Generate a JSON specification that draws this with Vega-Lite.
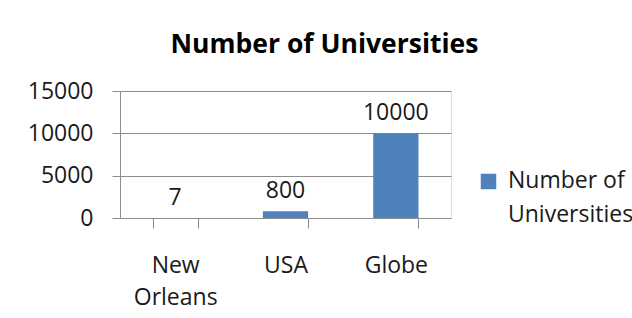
{
  "$schema": "https://vega.github.io/schema/vega-lite/v6.json",
  "width": 331,
  "height": 127,
  "autosize": "none",
  "padding": {"left": 120, "top": 91, "right": 181, "bottom": 100},
  "background": "white",
  "config": {
    "style": {"guide-label": {"lineHeight": 34, "dy": 6}}
  },
  "title": {
    "text": "Number of Universities",
    "font": "Open Sans",
    "fontSize": 26.5,
    "fontWeight": "bold",
    "color": "black",
    "anchor": "middle",
    "frame": "group",
    "dx": 39,
    "offset": 22
  },
  "data": {
    "values": [
      {"region": "New Orleans", "count": 7},
      {"region": "USA", "count": 800},
      {"region": "Globe", "count": 10000}
    ]
  },
  "encoding": {
    "x": {
      "field": "region",
      "type": "nominal",
      "sort": null,
      "scale": {"paddingInner": 0.59, "paddingOuter": 0.295},
      "axis": {
        "title": null,
        "labelAngle": 0,
        "tickBand": "extent",
        "ticks": true,
        "tickSize": 10,
        "tickColor": "#8c8c8c",
        "domainColor": "#8c8c8c",
        "grid": false,
        "labelExpr": "datum.value == 'New Orleans' ? ['New', 'Orleans'] : datum.value",
        "labelLineHeight": 32,
        "labelPadding": 20,
        "labelFont": "Open Sans",
        "labelFontSize": 23,
        "labelColor": "#1a1a1a",
        "labelBaseline": "top"
      }
    },
    "y": {
      "field": "count",
      "type": "quantitative",
      "scale": {"domain": [0, 15000]},
      "axis": {
        "title": null,
        "values": [0, 5000, 10000, 15000],
        "format": "d",
        "tickSize": 8,
        "tickColor": "#8c8c8c",
        "domainColor": "#8c8c8c",
        "gridColor": "#8c8c8c",
        "gridOpacity": 1,
        "labelPadding": 19,
        "labelOffset": -6,
        "labelFont": "Open Sans",
        "labelFontSize": 23,
        "labelColor": "#1a1a1a"
      }
    }
  },
  "layer": [
    {
      "mark": {"type": "bar"},
      "encoding": {
        "color": {
          "datum": "Number of Universities",
          "type": "nominal",
          "scale": {"range": ["#4F81BD"]},
          "legend": {
            "title": null,
            "orient": "none",
            "legendX": 357,
            "legendY": 79,
            "padding": 0,
            "symbolType": "square",
            "symbolSize": 240,
            "symbolStrokeWidth": 0,
            "symbolOpacity": 1,
            "labelOffset": 8,
            "labelFont": "Open Sans",
            "labelFontSize": 23,
            "labelColor": "#1a1a1a",
            "labelLimit": 300,
            "labelBaseline": "alphabetic",
            "labelExpr": "['Number of', 'Universities']"
          }
        }
      }
    },
    {
      "mark": {
        "type": "text",
        "dy": -13,
        "baseline": "alphabetic",
        "font": "Open Sans",
        "fontSize": 23,
        "color": "#1a1a1a"
      },
      "encoding": {"text": {"field": "count", "type": "quantitative", "format": "d"}}
    }
  ]
}
